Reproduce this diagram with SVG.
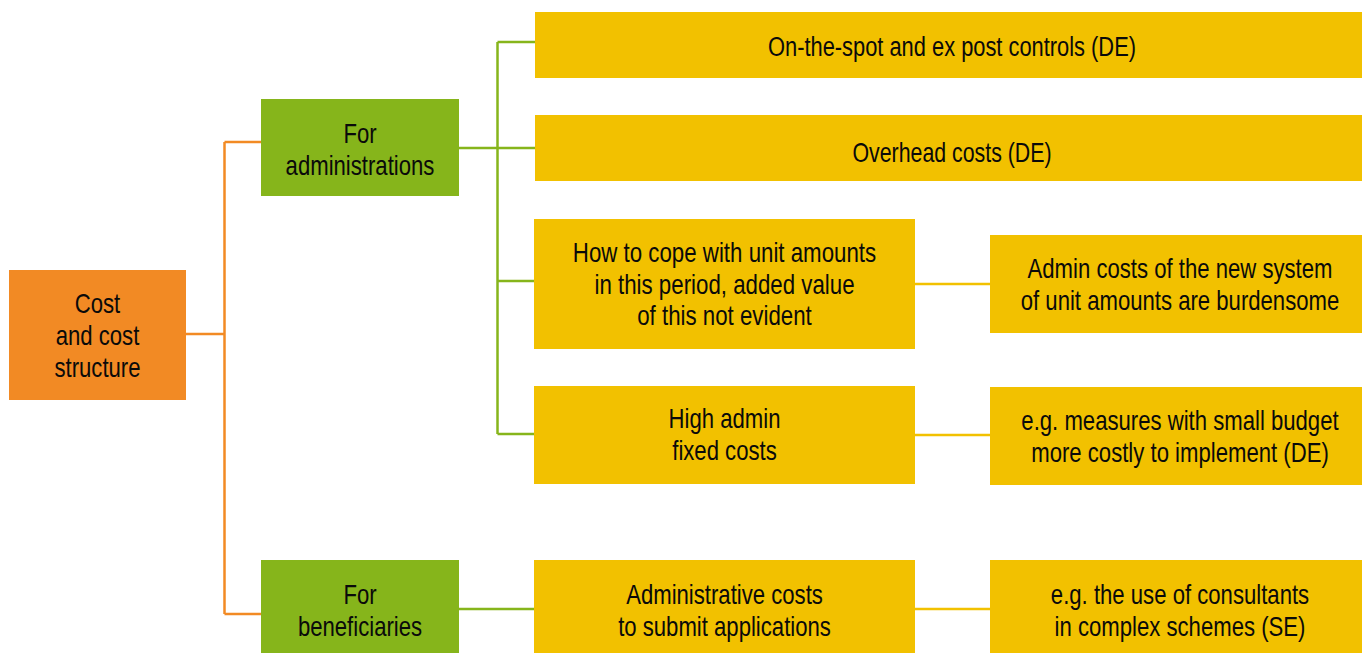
<svg xmlns="http://www.w3.org/2000/svg" width="1362" height="653" viewBox="0 0 1362 653">
<style>
  .root { fill: #F28A24; }
  .cat { fill: #86B51B; }
  .item { fill: #F2C100; }
  text { font-family: "Liberation Sans", Arial, sans-serif; font-size: 27px; fill: #0A0A0A; text-anchor: middle; }
  .c-or { stroke: #F28A24; stroke-width: 2.5; fill: none; }
  .c-gr { stroke: #86B51B; stroke-width: 2.5; fill: none; }
  .c-ye { stroke: #F2C100; stroke-width: 2.5; fill: none; }
</style>
<rect width="1362" height="653" fill="#FFFFFF"/>
<g id="connectors">
  <path class="c-or" d="M186 334 H224.5 M224.5 142 V614 M224.5 142 H261 M224.5 614 H261"/>
  <path class="c-gr" d="M459 148 H535 M497.5 42 V434 M497.5 42 H535 M497.5 281 H534 M497.5 434 H534 M459 609 H534"/>
  <path class="c-ye" d="M915 284 H990 M915 435 H990 M915 609 H990"/>
</g>
<g id="n-root">
  <rect class="root" x="9" y="270" width="177" height="130"/>
  <text transform="translate(97.5 313) scale(0.82 1)">Cost</text>
  <text transform="translate(97.5 345) scale(0.82 1)">and cost</text>
  <text transform="translate(97.5 377) scale(0.82 1)">structure</text>
</g>
<g id="n-admin">
  <rect class="cat" x="261" y="99" width="198" height="97"/>
  <text transform="translate(360 143) scale(0.82 1)">For</text>
  <text transform="translate(360 175) scale(0.82 1)">administrations</text>
</g>
<g id="n-benef">
  <rect class="cat" x="261" y="560" width="198" height="93"/>
  <text transform="translate(360 604) scale(0.82 1)">For</text>
  <text transform="translate(360 636) scale(0.82 1)">beneficiaries</text>
</g>
<g id="n-spot">
  <rect class="item" x="535" y="12" width="835" height="66"/>
  <text transform="translate(952 56) scale(0.81 1)">On-the-spot and ex post controls (DE)</text>
</g>
<g id="n-overhead">
  <rect class="item" x="535" y="115" width="835" height="66"/>
  <text transform="translate(952 162) scale(0.79 1)">Overhead costs (DE)</text>
</g>
<g id="n-unit">
  <rect class="item" x="534" y="219" width="381" height="130"/>
  <text transform="translate(724.5 262) scale(0.825 1)">How to cope with unit amounts</text>
  <text transform="translate(724.5 293.5) scale(0.825 1)">in this period, added value</text>
  <text transform="translate(724.5 325) scale(0.825 1)">of this not evident</text>
</g>
<g id="n-unit-cost">
  <rect class="item" x="990" y="235" width="380" height="98"/>
  <text transform="translate(1180 278) scale(0.82 1)">Admin costs of the new system</text>
  <text transform="translate(1180 310) scale(0.82 1)">of unit amounts are burdensome</text>
</g>
<g id="n-fixed">
  <rect class="item" x="534" y="386" width="381" height="98"/>
  <text transform="translate(724.5 428) scale(0.82 1)">High admin</text>
  <text transform="translate(724.5 460) scale(0.82 1)">fixed costs</text>
</g>
<g id="n-small">
  <rect class="item" x="990" y="387" width="380" height="98"/>
  <text transform="translate(1180 430) scale(0.82 1)">e.g. measures with small budget</text>
  <text transform="translate(1180 462) scale(0.82 1)">more costly to implement (DE)</text>
</g>
<g id="n-apply">
  <rect class="item" x="534" y="560" width="381" height="93"/>
  <text transform="translate(724.5 604) scale(0.82 1)">Administrative costs</text>
  <text transform="translate(724.5 636) scale(0.82 1)">to submit applications</text>
</g>
<g id="n-consult">
  <rect class="item" x="990" y="560" width="380" height="93"/>
  <text transform="translate(1180 604) scale(0.82 1)">e.g. the use of consultants</text>
  <text transform="translate(1180 636) scale(0.82 1)">in complex schemes (SE)</text>
</g>
</svg>
